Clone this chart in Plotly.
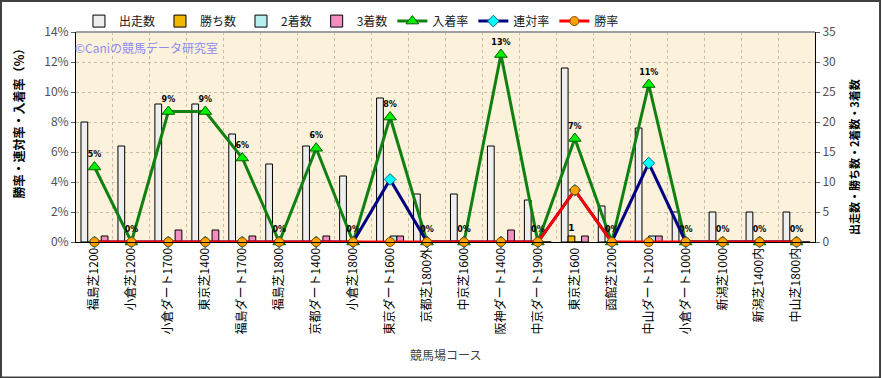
import plotly.graph_objects as go

courses = ["福島芝1200", "小倉芝1200", "小倉ダート1700", "東京芝1400", "福島ダート1700",
           "福島芝1800", "京都ダート1400", "小倉芝1800", "東京ダート1600", "京都芝1800外",
           "中京芝1600", "阪神ダート1400", "中京ダート1900", "東京芝1600", "函館芝1200",
           "中山ダート1200", "小倉ダート1000", "新潟芝1000", "新潟芝1400内", "中山芝1800内"]
runs = [20, 16, 23, 23, 18, 13, 16, 11, 24, 8, 8, 16, 7, 29, 6, 19, 5, 5, 5, 5]
wins = [0, 0, 0, 0, 0, 0, 0, 0, 0, 0, 0, 0, 0, 1, 0, 0, 0, 0, 0, 0]
seconds = [0, 0, 0, 0, 0, 0, 0, 0, 1, 0, 0, 0, 0, 0, 0, 1, 0, 0, 0, 0]
thirds = [1, 0, 2, 2, 1, 0, 1, 0, 1, 0, 0, 2, 0, 1, 0, 1, 0, 0, 0, 0]
place_rate = [5.0, 0, 8.7, 8.7, 5.6, 0, 6.25, 0, 8.33, 0, 0, 12.5, 0, 6.9, 0, 10.5, 0, 0, 0, 0]
quinella_rate = [0, 0, 0, 0, 0, 0, 0, 0, 4.17, 0, 0, 0, 0, 3.45, 0, 5.26, 0, 0, 0, 0]
win_rate = [0, 0, 0, 0, 0, 0, 0, 0, 0, 0, 0, 0, 0, 3.45, 0, 0, 0, 0, 0, 0]
place_labels = ["5%", "0%", "9%", "9%", "6%", "0%", "6%", "0%", "8%", "0%",
                "0%", "13%", "0%", "7%", "0%", "11%", "0%", "0%", "0%", "0%"]

FONT = "Noto Sans CJK JP"
fig = go.Figure()

bar_line = dict(color="black", width=1)
fig.add_trace(go.Bar(x=courses, y=runs, name="出走数",
                     marker=dict(color="#eeeeee", line=bar_line), yaxis="y"))
fig.add_trace(go.Bar(x=courses, y=wins, name="勝ち数",
                     marker=dict(color="#f0b800", line=bar_line), yaxis="y",
                     text=[str(v) if v else "" for v in wins], textposition="outside",
                     textfont=dict(size=9, color="black", family="DejaVu Sans", weight="bold"),
                     cliponaxis=False))
fig.add_trace(go.Bar(x=courses, y=seconds, name="2着数",
                     marker=dict(color="#b8eef0", line=bar_line), yaxis="y"))
fig.add_trace(go.Bar(x=courses, y=thirds, name="3着数",
                     marker=dict(color="#f090c0", line=bar_line), yaxis="y"))

fig.add_trace(go.Scatter(x=courses, y=place_rate, name="入着率", mode="lines+markers+text",
                         line=dict(color="#108010", width=3),
                         marker=dict(symbol="triangle-up", size=11, color="#00f000",
                                     line=dict(color="#006000", width=1)),
                         text=place_labels, textposition="top center",
                         textfont=dict(size=8, color="black", family="DejaVu Sans", weight="bold"),
                         yaxis="y2", cliponaxis=False))
fig.add_trace(go.Scatter(x=courses, y=quinella_rate, name="連対率", mode="lines+markers",
                         line=dict(color="#000080", width=3),
                         marker=dict(symbol="diamond", size=9, color="#00ffff",
                                     line=dict(color="#006080", width=1)),
                         yaxis="y2", cliponaxis=False))
fig.add_trace(go.Scatter(x=courses, y=win_rate, name="勝率", mode="lines+markers",
                         line=dict(color="#ff0000", width=3),
                         marker=dict(symbol="circle", size=9, color="#ffa000",
                                     line=dict(color="#805000", width=1)),
                         yaxis="y2", cliponaxis=False))

GRID = "#c4bcac"
fig.update_layout(
    width=882, height=378,
    margin=dict(l=76, r=67, t=32, b=136, autoexpand=False),
    paper_bgcolor="white",
    plot_bgcolor="#fcf1da",
    font=dict(family=FONT, size=12, color="#404040"),
    barmode="group", bargap=0.27, bargroupgap=0,
    showlegend=True,
    legend=dict(orientation="h", x=0.004, y=1.052, xanchor="left", yanchor="middle",
                font=dict(size=12, color="#202020"), bgcolor="rgba(0,0,0,0)",
                itemwidth=30, tracegroupgap=0),
    xaxis=dict(type="category", range=[-0.5, len(courses) - 0.5], autorange=False,
               tickangle=-90, tickson="boundaries",
               showgrid=True, gridcolor=GRID, griddash="dot", gridwidth=1,
               showline=True, linecolor="black", linewidth=1, ticks="",
               tickfont=dict(size=12, color="black", family=FONT)),
    yaxis=dict(side="right", range=[0, 35], dtick=5, showgrid=True,
               gridcolor=GRID, griddash="dot", gridwidth=1,
               showline=True, linecolor="black", linewidth=1,
               ticks="outside", ticklen=4, tickcolor="#606060",
               tickfont=dict(size=12, color="#505050"), zeroline=False),
    yaxis2=dict(side="left", overlaying="y", range=[0, 14], dtick=2, ticksuffix="%",
                showgrid=False, showline=True, linecolor="black", linewidth=1,
                ticks="outside", ticklen=4, tickcolor="#606060",
                tickfont=dict(size=12, color="#505050"), zeroline=False),
    annotations=[
        dict(text="©Caniの競馬データ研究室", xref="paper", yref="paper",
             x=-0.004, y=0.924, xanchor="left", yanchor="middle", showarrow=False,
             font=dict(size=12, color="#8c8cf0", family=FONT)),
        dict(text="競馬場コース", xref="paper", yref="paper",
             x=0.5, y=-0.538, xanchor="center", yanchor="middle", showarrow=False,
             font=dict(size=12, color="#404040", family=FONT)),
        dict(text="<b>勝率・連対率・入着率（％）</b>", xref="paper", yref="paper",
             x=-0.078, y=0.58, xanchor="center", yanchor="middle", showarrow=False,
             textangle=-90, font=dict(size=12, color="black", family=FONT)),
        dict(text="<b>出走数・勝ち数・2着数・3着数</b>", xref="paper", yref="paper",
             x=1.053, y=0.405, xanchor="center", yanchor="middle", showarrow=False,
             textangle=-90, font=dict(size=11, color="black", family=FONT)),
    ],
    shapes=[
        dict(type="line", xref="paper", yref="paper", x0=0, x1=1, y0=1, y1=1,
             line=dict(color="#a0a0a0", width=2)),
        dict(type="rect", xref="paper", yref="paper",
             x0=-0.1015, x1=1.0880, y0=-0.6452, y1=1.1476,
             line=dict(color="#404040", width=2), layer="above"),
    ],
)

fig.write_html("out.html", config={"displayModeBar": False},
               post_script="document.body.style.margin='0';document.body.style.overflow='hidden';")
